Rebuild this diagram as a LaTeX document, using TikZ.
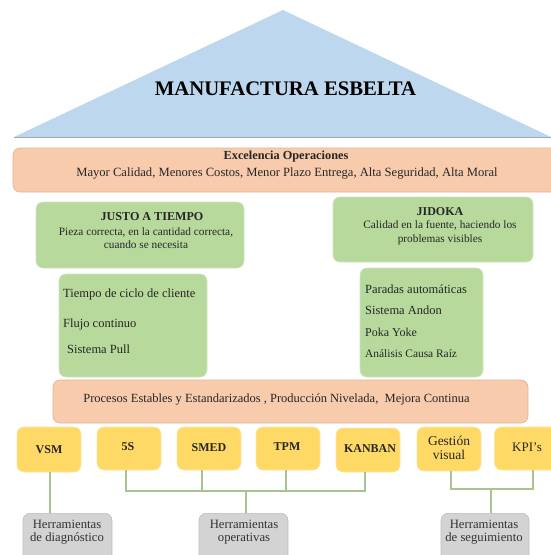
\documentclass[tikz,border=0pt]{standalone}
\usepackage{fontspec}
\setmainfont{Liberation Serif}
\definecolor{roof}{HTML}{BDD7EE}
\definecolor{roofline}{HTML}{A6A6A6}
\definecolor{peach}{HTML}{F8CBAD}
\definecolor{peachline}{HTML}{D9B39A}
\definecolor{leaf}{HTML}{B7DA9C}
\definecolor{leafline}{HTML}{CFE3C0}
\definecolor{sun}{HTML}{FFD966}
\definecolor{sunline}{HTML}{FBE6A6}
\definecolor{stone}{HTML}{D3D3D3}
\definecolor{stoneline}{HTML}{BDBDBD}
\definecolor{linkc}{HTML}{A7C38F}
\definecolor{ink}{HTML}{262626}
\newcommand{\fs}[2]{\fontsize{#1}{#2}\selectfont}
\begin{document}
\begin{tikzpicture}[x=1pt,y=-1pt,
  box/.style={rounded corners=7pt, inner sep=0pt, line width=0.6pt},
  band/.style={box, fill=peach, draw=peachline},
  pillar/.style={box, fill=leaf, draw=leafline},
  tool/.style={box, fill=sun, draw=sunline, minimum width=64pt},
  group/.style={box, fill=stone, draw=stoneline, anchor=north},
  txt/.style={inner sep=0pt, text=ink},
  tooltxt/.style={txt, font=\fs{12}{14}\bfseries, align=center},
  tooltxtr/.style={txt, font=\fs{13}{14}, align=center},
  grouptxt/.style={txt, font=\fs{12.7}{12.5}, align=center, text=black!80},
  item/.style={txt, anchor=west, font=\fs{12.5}{13}},
  link/.style={draw=linkc, line width=1.3pt}
]
\useasboundingbox (0,0) rectangle (551,555);

% roof
\fill[roof] (14,137) -- (283,10) -- (551,137) -- cycle;
\draw[roofline, line width=0.8pt] (14,137.5) -- (551,137.5);
\node[txt, text=black, font=\fs{20.7}{24}\bfseries] (title) at (285.5,89) {MANUFACTURA ESBELTA};

% operational excellence band
\node[band, minimum width=547pt, minimum height=44pt] (exc) at (286.5,170) {};
\node[txt, font=\fs{12.3}{13}\bfseries] (exctitle) at (286,156.5) {Excelencia Operaciones};
\node[txt, font=\fs{12.6}{13}] (excgoals) at (287,173) {Mayor Calidad, Menores Costos, Menor Plazo Entrega, Alta Seguridad, Alta Moral};

% pillars
\node[pillar, minimum width=208pt, minimum height=66pt] (jit) at (140,235) {};
\node[txt, font=\fs{12.1}{13}\bfseries] (jittitle) at (152,217) {JUSTO A TIEMPO};
\node[txt, font=\fs{11.3}{13}, align=center] (jitdesc) at (146,238.5) {Pieza correcta, en la cantidad correcta,\\cuando se necesita};

\node[pillar, minimum width=200pt, minimum height=65pt] (jid) at (433,229.5) {};
\node[txt, font=\fs{12}{13}\bfseries] (jidtitle) at (440,212) {JIDOKA};
\node[txt, font=\fs{11.3}{14}, align=center] (jiddesc) at (440,233) {Calidad en la fuente, haciendo los\\problemas visibles};

\node[pillar, minimum width=148pt, minimum height=103pt] (jitlist) at (133,325.5) {};
\node[item] (i1) at (63,294) {Tiempo de ciclo de cliente};
\node[item] (i2) at (63,324) {Flujo continuo};
\node[item] (i3) at (67,349) {Sistema Pull};

\node[pillar, minimum width=123pt, minimum height=109pt] (jidlist) at (421.5,322.5) {};
\node[item] (k1) at (365,289) {Paradas automáticas};
\node[item] (k2) at (365,310) {Sistema Andon};
\node[item, font=\fs{12}{13}] (k3) at (365,332) {Poka Yoke};
\node[item, font=\fs{11.4}{13}] (k4) at (365,354) {Análisis Causa Raíz};

% foundation band
\node[band, minimum width=475pt, minimum height=43pt] (proc) at (290.5,401.5) {};
\node[txt, font=\fs{12.5}{13}] (proctxt) at (276.5,399) {Procesos Estables y Estandarizados , Producción Nivelada,\ \ Mejora Continua};

% tools
\node[tool, minimum height=45pt] (vsm) at (49,449.5) {};
\node[tool, minimum height=43pt] (s5) at (129,448.5) {};
\node[tool, minimum height=43pt] (smed) at (209,448.5) {};
\node[tool, minimum height=43pt] (tpm) at (288,448.5) {};
\node[tool, minimum height=44pt] (kanban) at (368,450) {};
\node[tool, minimum height=44pt] (gest) at (449,449) {};
\node[tool, minimum height=43pt] (kpi) at (526.5,448.5) {};
\node[tooltxt] (tvsm) at (49,450) {VSM};
\node[tooltxt] (ts5) at (128,447) {5S};
\node[tooltxt] (tsmed) at (209,448) {SMED};
\node[tooltxt] (ttpm) at (287,447) {TPM};
\node[tooltxt] (tkanban) at (370,449) {KANBAN};
\node[tooltxtr, font=\fs{13.5}{14}] (tgest) at (449,448) {Gestión\\visual};
\node[tooltxtr] (tkpi) at (527,447) {KPI’s};

% tool groups
\node[group, minimum width=89pt, minimum height=50pt] (g1) at (67.5,513) {};
\node[group, minimum width=89pt, minimum height=50pt] (g2) at (243.5,513) {};
\node[group, minimum width=88pt, minimum height=50pt] (g3) at (485,513) {};
\node[grouptxt] (tg1) at (67,532) {Herramientas\\de diagnóstico};
\node[grouptxt] (tg2) at (244,532) {Herramientas\\operativas};
\node[grouptxt] (tg3) at (484,532) {Herramientas\\de seguimiento};

% connectors
\coordinate (opsjoin) at (246,491);
\coordinate (trackjoin) at (491,489);
\draw[link] ([xshift=1pt]vsm.south) -- ([xshift=1pt]vsm.south |- g1.north);
\draw[link] ([xshift=-3pt]s5.south) |- (opsjoin);
\draw[link] ([xshift=-3pt]kanban.south) |- (opsjoin);
\draw[link] ([xshift=-7pt]smed.south) -- ([xshift=-7pt]smed.south |- opsjoin);
\draw[link] ([xshift=-2pt]tpm.south) -- ([xshift=-2pt]tpm.south |- opsjoin);
\draw[link] (opsjoin) -- (opsjoin |- g2.north);
\draw[link] ([xshift=2pt]gest.south) |- (trackjoin);
\draw[link] ([xshift=6.5pt]kpi.south) |- (trackjoin);
\draw[link] (trackjoin) -- (trackjoin |- g3.north);
\end{tikzpicture}
\end{document}
